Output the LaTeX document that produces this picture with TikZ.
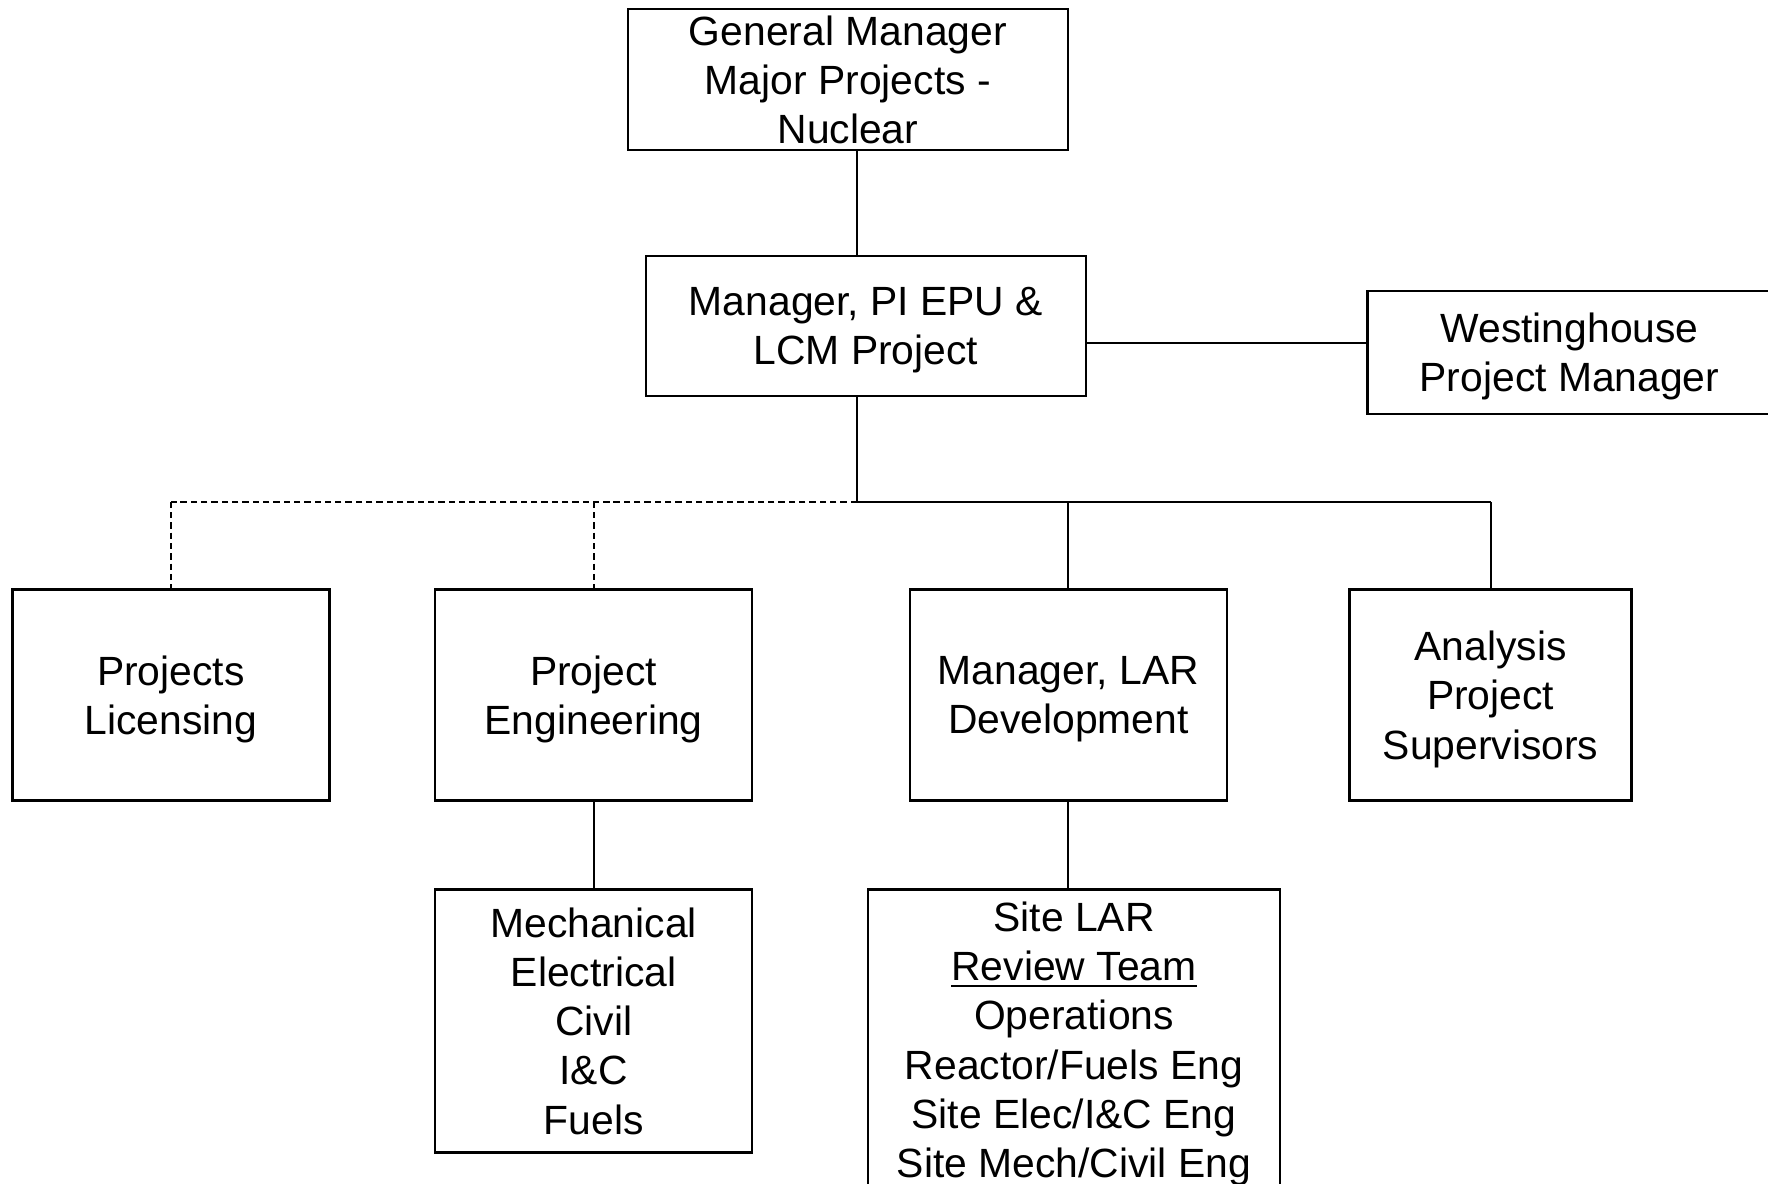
\documentclass[tikz,border=0pt]{standalone}
\usepackage{fontspec}
\setmainfont{Liberation Sans}
\newcommand{\nodepth}[1]{\raisebox{0pt}[\height][0pt]{#1}}
\newcommand{\ulbar}[1]{\vtop{\hbox{#1}\kern0.9pt\hrule height 0.55pt}}
\begin{document}
\begin{tikzpicture}[x=0.01cm,y=-0.01cm,font=\fontsize{10.3}{12.4}\selectfont,
  box/.style={draw,line width=0.6pt,align=center,inner sep=0pt},
  link/.style={line width=0.45pt},
  dotlink/.style={link,dash pattern=on 1.6pt off 1pt}]
  \useasboundingbox (0,0) rectangle (1568,1050);
  \node[box,minimum width=3.9cm,minimum height=1.25cm] (gm) at (752,70.5) {General Manager\\Major Projects -\\\nodepth{Nuclear}};
  \node[box,minimum width=3.9cm,minimum height=1.24cm] (pim) at (768,289) {Manager, PI EPU \&\\\nodepth{LCM Project}};
  \node[box,minimum width=3.58cm,minimum height=1.09cm] (wh) at (1392,312.5) {Westinghouse\\\nodepth{Project Manager}};
  \node[box,minimum width=2.81cm,minimum height=1.87cm] (lic) at (151.5,616.5) {Projects\\\nodepth{Licensing}};
  \node[box,minimum width=2.81cm,minimum height=1.87cm] (eng) at (526.5,616.5) {Project\\\nodepth{Engineering}};
  \node[box,minimum width=2.81cm,minimum height=1.87cm] (lar) at (947.5,616.5) {Manager, LAR\\\nodepth{Development}};
  \node[box,minimum width=2.5cm,minimum height=1.87cm] (ana) at (1322,616.5) {Analysis\\Project\\\nodepth{Supervisors}};
  \node[box,minimum width=2.81cm,minimum height=2.33cm] (disc) at (526.5,905.5) {Mechanical\\Electrical\\Civil\\I\&C\\\nodepth{Fuels}};
  \node[box,minimum width=3.65cm,minimum height=2.66cm] (site) at (952.5,922) {Site LAR\\\ulbar{Review Team}\\Operations\\Reactor/Fuels Eng\\Site Elec/I\&C Eng\\\nodepth{Site Mech/Civil Eng}};
  \coordinate (bus) at (760,445);
  \draw[link] (gm.south -| bus) -- (pim.north -| bus);
  \draw[link] ([yshift=0.085cm]wh.west) -- ([yshift=0.085cm]wh.west -| pim.east);
  \draw[link] (pim.south -| bus) -- (bus) -- (bus -| ana.north);
  \draw[dotlink] (bus) -- (bus -| lic.north);
  \foreach \n in {lar,ana} {
    \draw[link] (bus -| \n.north) -- (\n.north);
  }
  \foreach \n in {lic,eng} {
    \draw[dotlink] (bus -| \n.north) -- (\n.north);
  }
  \draw[link] (eng.south) -- (disc.north);
  \draw[link] (lar.south) -- (lar.south |- site.north);
\end{tikzpicture}
\end{document}
